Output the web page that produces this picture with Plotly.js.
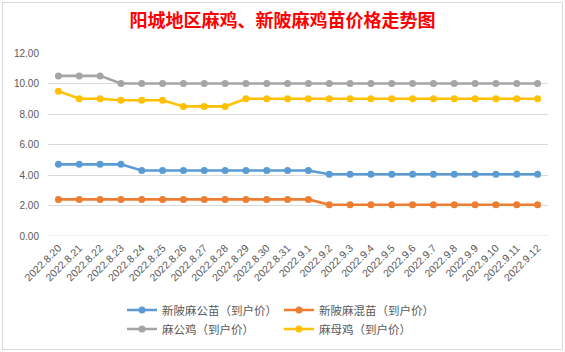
<!DOCTYPE html>
<html><head><meta charset="utf-8">
<script src="https://cdn.plot.ly/plotly-3.0.1.min.js"></script>
<style>html,body{margin:0;padding:0;background:#fff;}#chart{width:565px;height:352px;}</style>
</head><body><div id="chart"></div>
<script>
var dates = ["2022.8.20","2022.8.21","2022.8.22","2022.8.23","2022.8.24","2022.8.25","2022.8.26","2022.8.27","2022.8.28","2022.8.29","2022.8.30","2022.8.31","2022.9.1","2022.9.2","2022.9.3","2022.9.4","2022.9.5","2022.9.6","2022.9.7","2022.9.8","2022.9.9","2022.9.10","2022.9.11","2022.9.12"];
var maleChicks = [4.7,4.7,4.7,4.7,4.3,4.3,4.3,4.3,4.3,4.3,4.3,4.3,4.3,4.05,4.05,4.05,4.05,4.05,4.05,4.05,4.05,4.05,4.05,4.05];
var mixedChicks = [2.4,2.4,2.4,2.4,2.4,2.4,2.4,2.4,2.4,2.4,2.4,2.4,2.4,2.05,2.05,2.05,2.05,2.05,2.05,2.05,2.05,2.05,2.05,2.05];
var roosters = [10.5,10.5,10.5,10,10,10,10,10,10,10,10,10,10,10,10,10,10,10,10,10,10,10,10,10];
var hens = [9.5,9,9,8.9,8.9,8.9,8.5,8.5,8.5,9,9,9,9,9,9,9,9,9,9,9,9,9,9,9];
var names = ["新陂麻公苗（到户价）","新陂麻混苗（到户价）","麻公鸡（到户价）","麻母鸡（到户价）"];
var colors = ["#5B9BD5","#ED7D31","#A5A5A5","#FFC000"];
var legendOf = ["legend","legend2","legend","legend2"];
var series = [maleChicks, mixedChicks, roosters, hens];
var idx = dates.map(function(d,j){return j;});
var traces = series.map(function(s,i){
  return {x: idx, y: s, name: names[i], type:'scatter', mode:'lines+markers', legend: legendOf[i],
    line:{color:colors[i], width:2.6}, marker:{color:colors[i], size:7}};
});
var L=48, R=548, T=53, B=236;
function px(x){return (x-L)/(R-L);}
function py(y){return (B-y)/(B-T);}
var legFont = {family:'"Noto Sans CJK SC", sans-serif', size:11.5, color:'#595959'};
var layout = {
  width:565, height:352,
  margin:{l:L, r:565-R, t:T, b:352-B, autoexpand:false},
  paper_bgcolor:'#fff', plot_bgcolor:'#fff',
  font:{family:'"Liberation Sans", "Noto Sans CJK SC", sans-serif', color:'#595959', size:10},
  title:{text:'<b>阳城地区麻鸡、新陂麻鸡苗价格走势图</b>', font:{family:'"Noto Sans CJK SC", sans-serif', size:18, color:'#FF0000'}, x:0.5, xanchor:'center', xref:'container', y:1-20.5/352, yanchor:'middle', yref:'container'},
  xaxis:{type:'linear', range:[-0.5,23.5], tickmode:'array', tickvals:idx, ticktext:dates, automargin:false,
    tickangle:-45, showgrid:false, zeroline:false, showline:false, ticks:'', fixedrange:true, ticklabelstandoff:3, tickfont:{size:10.5,color:'#595959'}},
  yaxis:{range:[0,12], dtick:2, tick0:0, tickformat:'.2f', automargin:false, gridcolor:'#D9D9D9', gridwidth:1, zeroline:false, showline:false, ticks:'', ticklabelstandoff:8, tickfont:{size:10,color:'#595959'}},
  showlegend:true,
  legend:{orientation:'v', xref:'container', yref:'container', x:122/565, xanchor:'left', y:1-319.5/352, yanchor:'middle',
    font:legFont, tracegroupgap:0, itemwidth:30, bgcolor:'rgba(0,0,0,0)'},
  legend2:{orientation:'v', xref:'container', yref:'container', x:279/565, xanchor:'left', y:1-319.5/352, yanchor:'middle',
    font:legFont, tracegroupgap:0, itemwidth:30, bgcolor:'rgba(0,0,0,0)'},
  shapes:[
    {type:'line', xref:'paper', yref:'y', x0:0, x1:1, y0:0, y1:0, line:{color:'#D9D9D9', width:1}, layer:'below'},
    {type:'rect', xref:'paper', yref:'paper', x0:px(2.5), x1:px(562.5), y0:py(349.5), y1:py(2.5), line:{color:'#D9D9D9', width:1}}
  ]
};
Plotly.newPlot('chart', traces, layout, {displayModeBar:false, staticPlot:true});
</script>
</body></html>
